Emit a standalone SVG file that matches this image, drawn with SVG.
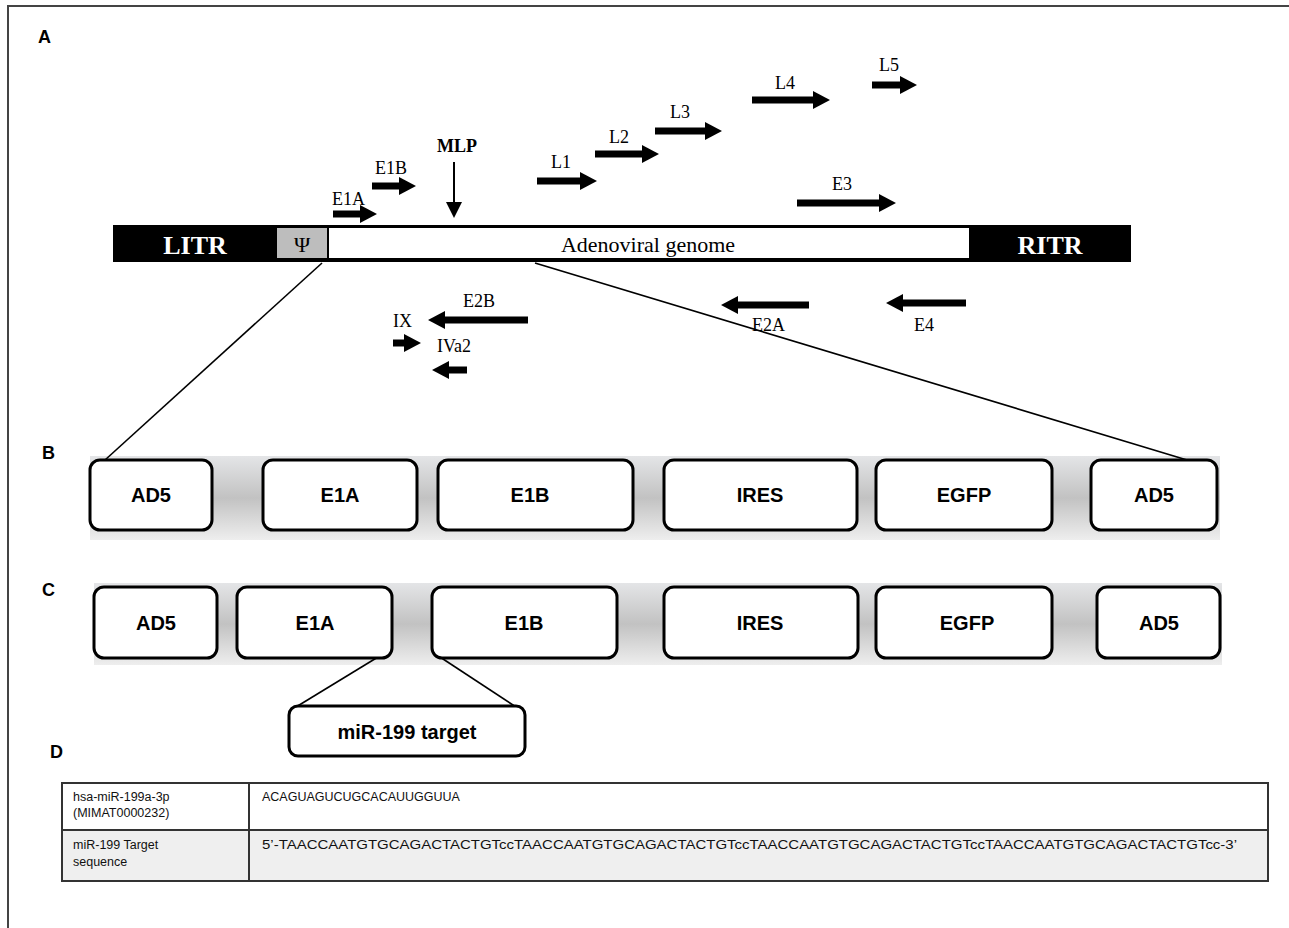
<svg xmlns="http://www.w3.org/2000/svg" width="1289" height="928" viewBox="0 0 1289 928">
<style>
.lab{font-family:"Liberation Serif","Times New Roman",serif;font-size:18px;fill:#000}
.pan{font-family:"Liberation Sans",Arial,sans-serif;font-size:18px;font-weight:bold;fill:#000}
.box{fill:#fff;stroke:#000;stroke-width:3}
.bt{font-family:"Liberation Sans",Arial,sans-serif;font-size:20px;font-weight:bold;fill:#000;text-anchor:middle}
.blk{stroke:#000;stroke-width:7;fill:none}
.conn{stroke:#000;stroke-width:1.6;fill:none}
.tt{font-family:"Liberation Sans",Arial,sans-serif;font-size:12.5px;fill:#111}
.tb{fill:none;stroke:#333;stroke-width:2}
</style>
<defs>
<marker id="head" markerUnits="userSpaceOnUse" markerWidth="17" markerHeight="18" refX="0" refY="9" orient="auto"><path d="M0,0 L17,9 L0,18 z" fill="#000"/></marker>
<marker id="thin" markerUnits="userSpaceOnUse" markerWidth="16" markerHeight="16" refX="0" refY="8" orient="auto"><path d="M0,0 L16,8 L0,16 z" fill="#000"/></marker>
<linearGradient id="band" x1="0" y1="0" x2="0" y2="1">
<stop offset="0" stop-color="#e4e5e7"/>
<stop offset="0.5" stop-color="#c2c2c2"/>
<stop offset="1" stop-color="#eeeeee"/>
</linearGradient>
</defs>
<rect width="1289" height="928" fill="#fff"/>
<path d="M8,928 V6 H1289" fill="none" stroke="#444" stroke-width="2"/>

<text class="pan" x="38" y="43">A</text>
<text class="pan" x="42" y="459">B</text>
<text class="pan" x="42" y="596">C</text>
<text class="pan" x="50" y="758">D</text>

<g id="genome">
<rect x="113" y="225" width="1018" height="37" fill="#000"/>
<rect x="277" y="228" width="50" height="30" fill="#bdbdbd"/>
<rect x="329" y="228" width="640" height="30" fill="#fff"/>
<text x="195" y="254" font-family="Liberation Serif,serif" font-size="26" font-weight="bold" fill="#fff" text-anchor="middle">LITR</text>
<text x="302" y="252" font-family="Liberation Serif,serif" font-size="22" fill="#000" text-anchor="middle">Ψ</text>
<text x="648" y="252" font-family="Liberation Serif,serif" font-size="22" fill="#000" text-anchor="middle">Adenoviral genome</text>
<text x="1050" y="254" font-family="Liberation Serif,serif" font-size="26" font-weight="bold" fill="#fff" text-anchor="middle">RITR</text>
</g>

<g id="transcripts">
<line class="blk" x1="333" y1="214" x2="360" y2="214" marker-end="url(#head)"/><text class="lab" x="332" y="205">E1A</text>
<line class="blk" x1="372" y1="186" x2="399" y2="186" marker-end="url(#head)"/><text class="lab" x="375" y="174">E1B</text>
<line x1="454" y1="162" x2="454" y2="202" stroke="#000" stroke-width="2" marker-end="url(#thin)"/>
<text x="437" y="152" font-family="Liberation Serif,serif" font-size="18" font-weight="bold">MLP</text>
<line class="blk" x1="537" y1="181" x2="580" y2="181" marker-end="url(#head)"/><text class="lab" x="551" y="168">L1</text>
<line class="blk" x1="595" y1="154" x2="642" y2="154" marker-end="url(#head)"/><text class="lab" x="609" y="143">L2</text>
<line class="blk" x1="655" y1="131" x2="705" y2="131" marker-end="url(#head)"/><text class="lab" x="670" y="118">L3</text>
<line class="blk" x1="752" y1="100" x2="813" y2="100" marker-end="url(#head)"/><text class="lab" x="775" y="89">L4</text>
<line class="blk" x1="872" y1="85" x2="900" y2="85" marker-end="url(#head)"/><text class="lab" x="879" y="71">L5</text>
<line class="blk" x1="797" y1="203" x2="879" y2="203" marker-end="url(#head)"/><text class="lab" x="832" y="190">E3</text>
<line class="blk" x1="809" y1="305" x2="738" y2="305" marker-end="url(#head)"/><text class="lab" x="752" y="331">E2A</text>
<line class="blk" x1="966" y1="303" x2="903" y2="303" marker-end="url(#head)"/><text class="lab" x="914" y="331">E4</text>
<line class="blk" x1="528" y1="320" x2="445" y2="320" marker-end="url(#head)"/><text class="lab" x="463" y="307">E2B</text>
<line class="blk" x1="393" y1="343" x2="404" y2="343" marker-end="url(#head)"/><text class="lab" x="393" y="327">IX</text>
<line class="blk" x1="467" y1="370" x2="449" y2="370" marker-end="url(#head)"/><text class="lab" x="437" y="352">IVa2</text>
</g>

<rect x="90" y="456" width="1130" height="84" fill="url(#band)"/>
<rect x="94" y="583" width="1128" height="82" fill="url(#band)"/>

<g id="connectors">
<line class="conn" x1="322" y1="263" x2="105" y2="460"/>
<line class="conn" x1="535" y1="263" x2="1187" y2="460"/>
<line class="conn" x1="378" y1="657" x2="296" y2="707"/>
<line class="conn" x1="440" y1="657" x2="516" y2="707"/>
</g>

<g id="b-ad5-left"><rect class="box" x="90" y="460" width="122" height="70" rx="10"/><text class="bt" x="151" y="502">AD5</text></g>
<g id="b-e1a"><rect class="box" x="263" y="460" width="154" height="70" rx="10"/><text class="bt" x="340" y="502">E1A</text></g>
<g id="b-e1b"><rect class="box" x="438" y="460" width="195" height="70" rx="10"/><text class="bt" x="530" y="502">E1B</text></g>
<g id="b-ires"><rect class="box" x="664" y="460" width="193" height="70" rx="10"/><text class="bt" x="760" y="502">IRES</text></g>
<g id="b-egfp"><rect class="box" x="876" y="460" width="176" height="70" rx="10"/><text class="bt" x="964" y="502">EGFP</text></g>
<g id="b-ad5-right"><rect class="box" x="1091" y="460" width="126" height="70" rx="10"/><text class="bt" x="1154" y="502">AD5</text></g>

<g id="c-ad5-left"><rect class="box" x="94" y="587" width="123" height="71" rx="10"/><text class="bt" x="156" y="630">AD5</text></g>
<g id="c-e1a"><rect class="box" x="237" y="587" width="155" height="71" rx="10"/><text class="bt" x="315" y="630">E1A</text></g>
<g id="c-e1b"><rect class="box" x="432" y="587" width="185" height="71" rx="10"/><text class="bt" x="524" y="630">E1B</text></g>
<g id="c-ires"><rect class="box" x="664" y="587" width="194" height="71" rx="10"/><text class="bt" x="760" y="630">IRES</text></g>
<g id="c-egfp"><rect class="box" x="876" y="587" width="176" height="71" rx="10"/><text class="bt" x="967" y="630">EGFP</text></g>
<g id="c-ad5-right"><rect class="box" x="1097" y="587" width="123" height="71" rx="10"/><text class="bt" x="1159" y="630">AD5</text></g>

<g id="mir-target"><rect class="box" x="289" y="706" width="236" height="50" rx="9"/><text class="bt" x="407" y="739" font-size="19">miR-199 target</text></g>

<g id="table">
<rect x="62" y="830" width="1206" height="51" fill="#efefef"/>
<rect class="tb" x="62" y="783" width="1206" height="98"/>
<line class="tb" x1="62" y1="830" x2="1268" y2="830"/>
<line class="tb" x1="249" y1="783" x2="249" y2="881"/>
<text class="tt" x="73" y="801">hsa-miR-199a-3p</text>
<text class="tt" x="73" y="817">(MIMAT0000232)</text>
<text class="tt" x="262" y="801">ACAGUAGUCUGCACAUUGGUUA</text>
<text class="tt" x="73" y="849">miR-199 Target</text>
<text class="tt" x="73" y="866">sequence</text>
<text class="tt" x="262" y="849" textLength="975" lengthAdjust="spacingAndGlyphs">5’-TAACCAATGTGCAGACTACTGTccTAACCAATGTGCAGACTACTGTccTAACCAATGTGCAGACTACTGTccTAACCAATGTGCAGACTACTGTcc-3’</text>
</g>
</svg>
